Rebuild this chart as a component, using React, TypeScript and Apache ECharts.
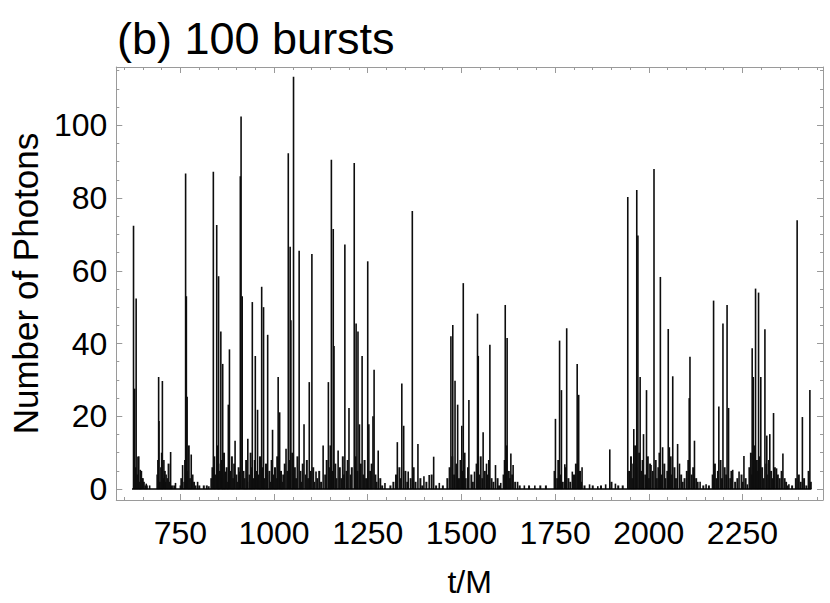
import React, { useEffect, useRef } from "react";
import * as echarts from "echarts";

// Tall burst peaks: [t/M, photons]
const burstPeaks: [number, number][] = [
  [625, 72.4], [628, 27.6], [632, 52.4], [637, 8.9], [643, 5.3], [650, 3], [659, 1.5], [668, 1],
  [692, 30.8], [693, 18.7], [702, 29.7], [706, 8], [712, 4], [724, 10.2], [737, 1.7],
  [756, 6.6], [764, 86.7], [766, 53], [768, 25.4], [779, 9.5], [796, 2], [826, 0.8],
  [838, 87.2], [847, 72.6], [852, 58.5], [858, 43.3], [863, 34.4], [870, 4.8], [878, 23.2], [881, 38.4],
  [896, 13.3], [908, 4.8], [910, 86], [912, 102.4], [915, 53], [930, 13.8], [942, 51.4], [950, 36.6],
  [956, 21.8], [967, 55.6], [972, 50], [983, 42.4], [996, 16.3], [1011, 30.8], [1015, 21.1],
  [1032, 11.1], [1038, 92.3], [1043, 66.6], [1045, 46.4], [1052, 113.3], [1067, 65.5], [1080, 17.8],
  [1094, 29.4], [1101, 64.6], [1112, 4.8], [1131, 12], [1145, 29.4], [1153, 90.5], [1158, 71.5],
  [1160, 39.3], [1171, 10.6], [1189, 67.2], [1200, 22.3], [1214, 89.6], [1219, 45.5], [1224, 43.3],
  [1228, 17.8], [1235, 36.6], [1250, 62.6], [1253, 17.8], [1264, 20], [1267, 32.8], [1278, 10.6],
  [1296, 1.7], [1329, 12.9], [1341, 29], [1346, 17.4], [1358, 4.8], [1369, 76.4], [1384, 12.4],
  [1400, 3.5], [1414, 3.9], [1426, 8.9], [1441, 1.7], [1472, 42], [1477, 45.1], [1483, 29.8],
  [1490, 23.2], [1501, 17.4], [1505, 56.6], [1520, 24.5], [1535, 4.8], [1543, 48.2], [1545, 36.6],
  [1558, 15.6], [1567, 7], [1576, 39.7], [1591, 6.6], [1605, 1.7], [1617, 50.6], [1622, 41.5],
  [1632, 9.8], [1638, 6.6], [1650, 2], [1668, 1], [1696, 1], [1751, 19.3], [1762, 40.8], [1767, 27.2],
  [1776, 6.8], [1781, 44.2], [1796, 4.8], [1809, 34.4], [1813, 25.9], [1822, 6], [1842, 1.3],
  [1864, 0.8], [1885, 1.3], [1896, 10.9], [1911, 1.5], [1944, 80.3], [1960, 16.5], [1968, 82.2],
  [1971, 69.7], [1977, 30.8], [1986, 15.1], [1994, 27.2], [2006, 6.6], [2014, 88], [2031, 58.3],
  [2037, 11.5], [2052, 44], [2055, 11.5], [2064, 31], [2077, 12.4], [2082, 7], [2108, 25],
  [2110, 36.4], [2122, 13.3], [2137, 2], [2153, 1.3], [2173, 51.8], [2187, 22.7], [2198, 45.5],
  [2209, 50.6], [2213, 22.3], [2224, 5.3], [2241, 4.8], [2254, 9.1], [2263, 1.3], [2276, 38.7],
  [2279, 30.8], [2285, 55.1], [2293, 54], [2299, 30.8], [2310, 43.9], [2315, 14.7], [2323, 15.1],
  [2333, 20.9], [2341, 5.7], [2358, 9.8], [2374, 1.3], [2396, 73.9], [2410, 19.8], [2430, 27.2],
];

// Low-level photon counts between the bursts: [t/M, photons]
const photonNoise: [number, number][] = [
  [630, 6], [634, 4], [638, 9], [641, 2], [645, 5], [648, 3], [652, 2], [656, 1], [660, 1],
  [688, 4], [690, 8], [695, 2], [698, 6], [700, 10], [704, 3], [708, 5], [710, 2], [715, 3], [718, 7],
  [721, 2], [727, 1], [733, 1], [750, 1], [752, 3], [760, 2], [762, 8], [770, 5], [772, 12], [775, 3],
  [782, 4], [786, 2], [790, 1], [800, 1], [812, 1], [820, 1],
  [832, 3], [835, 6], [840, 9], [843, 4], [849, 12], [851, 7], [855, 5], [860, 8], [862, 3], [866, 10],
  [868, 4], [873, 6], [876, 2], [884, 5], [887, 9], [890, 3], [893, 7], [899, 4], [902, 2], [905, 6],
  [918, 5], [921, 3], [925, 8], [928, 2], [934, 4], [937, 10], [940, 6], [945, 3], [948, 8], [953, 5],
  [959, 4], [962, 9], [964, 2], [970, 6], [975, 3], [978, 7], [981, 4], [987, 5], [990, 2], [993, 8],
  [999, 4], [1002, 6], [1005, 3], [1008, 9], [1018, 5], [1021, 2], [1024, 4], [1028, 7], [1035, 5],
  [1041, 8], [1048, 10], [1050, 4], [1055, 6], [1058, 3], [1062, 9], [1070, 5], [1073, 2], [1076, 7],
  [1084, 4], [1087, 8], [1090, 3], [1097, 5], [1104, 6], [1107, 2], [1115, 3], [1120, 5], [1125, 2],
  [1136, 4], [1140, 8], [1148, 6], [1150, 12], [1155, 5], [1163, 7], [1166, 3], [1175, 6], [1179, 3],
  [1183, 9], [1186, 4], [1193, 5], [1196, 8], [1204, 4], [1207, 6], [1217, 9], [1222, 5], [1231, 7],
  [1238, 4], [1241, 8], [1245, 3], [1256, 5], [1260, 7], [1270, 4], [1273, 2], [1283, 3], [1288, 1],
  [1310, 1], [1318, 2], [1325, 4], [1334, 6], [1338, 3], [1350, 5], [1355, 2], [1364, 3], [1372, 6],
  [1377, 2], [1390, 3], [1395, 1], [1406, 2], [1420, 4], [1432, 1], [1450, 1], [1462, 3],
  [1468, 6], [1475, 9], [1480, 4], [1486, 7], [1493, 3], [1497, 8], [1503, 5], [1508, 10], [1511, 3],
  [1517, 6], [1526, 4], [1530, 2], [1540, 7], [1548, 4], [1551, 9], [1555, 3], [1562, 5], [1570, 4],
  [1573, 8], [1580, 3], [1585, 2], [1596, 3], [1600, 1], [1612, 4], [1615, 8], [1620, 12], [1626, 5],
  [1629, 3], [1635, 4], [1643, 2], [1655, 1], [1680, 1], [1710, 1], [1725, 1],
  [1748, 5], [1755, 3], [1758, 8], [1765, 4], [1770, 2], [1778, 6], [1785, 3], [1790, 2], [1800, 4],
  [1805, 7], [1816, 5], [1819, 2], [1828, 1], [1850, 1], [1872, 1], [1900, 2], [1918, 1], [1930, 1],
  [1947, 5], [1952, 9], [1955, 3], [1958, 7], [1963, 12], [1966, 6], [1974, 10], [1980, 5], [1983, 8],
  [1990, 4], [1997, 9], [2000, 3], [2003, 7], [2010, 5], [2018, 8], [2021, 3], [2025, 6], [2028, 10],
  [2034, 4], [2041, 7], [2044, 3], [2049, 5], [2058, 9], [2061, 4], [2068, 6], [2072, 3], [2086, 4],
  [2090, 2], [2095, 3], [2101, 5], [2105, 8], [2114, 4], [2118, 6], [2126, 3], [2130, 2], [2145, 1],
  [2160, 1], [2170, 4], [2176, 7], [2180, 3], [2184, 5], [2191, 8], [2195, 3], [2202, 6], [2206, 4],
  [2217, 3], [2220, 5], [2230, 2], [2236, 3], [2247, 4], [2250, 2], [2258, 3],
  [2268, 6], [2272, 10], [2274, 4], [2282, 12], [2288, 8], [2290, 5], [2296, 9], [2302, 6], [2306, 3],
  [2313, 7], [2318, 4], [2320, 8], [2326, 5], [2330, 3], [2336, 6], [2344, 4], [2349, 3], [2354, 5],
  [2362, 3], [2366, 2], [2370, 1], [2382, 1], [2392, 3], [2400, 4], [2405, 2], [2414, 3], [2420, 1],
  [2426, 5], [2432, 2],
];

// First and last sample time of the record (baseline at zero photons)
const sampleSpan: number[] = [621, 2434];

const xMajorTicks: number[] = [750, 1000, 1250, 1500, 1750, 2000, 2250];
const xMinorTicks: number[] = [
  600, 650, 700, 800, 850, 900, 950, 1050, 1100, 1150, 1200, 1300, 1350, 1400, 1450,
  1550, 1600, 1650, 1700, 1800, 1850, 1900, 1950, 2050, 2100, 2150, 2200, 2300, 2350, 2400, 2450,
];
const yMajorTicks: number[] = [0, 20, 40, 60, 80, 100];
const yMinorTicks: number[] = [
  5, 10, 15, 25, 30, 35, 45, 50, 55, 65, 70, 75, 85, 90, 95, 105, 110, 115,
];

const X_MIN = 579;
const X_MAX = 2465;
const Y_MIN = -3;
const Y_MAX = 116;

const FONT = '"Liberation Sans", Arial, Helvetica, sans-serif';
const FRAME = "#9a9a9a";
const plain = (v: number) => String(v);

export default function App() {
  const ref = useRef<HTMLDivElement>(null);

  useEffect(() => {
    if (!ref.current) return;
    const chart = echarts.init(ref.current, null, { renderer: "svg" });

    const xBase = { type: "value", min: X_MIN, max: X_MAX, splitLine: { show: false } };
    const yBase = { type: "value", min: Y_MIN, max: Y_MAX, splitLine: { show: false } };
    const tickStyle = { color: FRAME, width: 1 };

    const option = {
      animation: false,
      backgroundColor: "#ffffff",
      title: {
        text: "(b) 100 bursts",
        left: 112,
        top: 11,
        textStyle: { fontFamily: FONT, fontSize: 45, fontWeight: "normal", color: "#000" },
      },
      grid: { left: 113, right: 7, top: 67, bottom: 94 },
      xAxis: [
        {
          ...xBase,
          position: "bottom",
          name: "t/M",
          nameLocation: "middle",
          nameGap: 66,
          nameTextStyle: { fontFamily: FONT, fontSize: 32, color: "#000" },
          axisLine: { show: true, onZero: false, lineStyle: { color: FRAME, width: 1 } },
          axisTick: { show: true, inside: true, length: 6, customValues: xMajorTicks, lineStyle: tickStyle },
          axisLabel: { show: true, customValues: xMajorTicks, formatter: plain, fontFamily: FONT, fontSize: 32, color: "#000", margin: 17 },
        },
        {
          ...xBase,
          position: "bottom",
          axisLine: { show: false, onZero: false },
          axisTick: { show: true, inside: true, length: 3, customValues: xMinorTicks, lineStyle: tickStyle },
          axisLabel: { show: false },
        },
        {
          ...xBase,
          position: "top",
          axisLine: { show: true, onZero: false, lineStyle: { color: FRAME, width: 1 } },
          axisTick: { show: true, inside: true, length: 6, customValues: xMajorTicks, lineStyle: tickStyle },
          axisLabel: { show: false },
        },
        {
          ...xBase,
          position: "top",
          axisLine: { show: false, onZero: false },
          axisTick: { show: true, inside: true, length: 3, customValues: xMinorTicks, lineStyle: tickStyle },
          axisLabel: { show: false },
        },
      ],
      yAxis: [
        {
          ...yBase,
          position: "left",
          name: "Number of Photons",
          nameLocation: "middle",
          nameGap: 62,
          nameTextStyle: { fontFamily: FONT, fontSize: 35, color: "#000" },
          axisLine: { show: true, onZero: false, lineStyle: { color: FRAME, width: 1 } },
          axisTick: { show: true, inside: true, length: 6, customValues: yMajorTicks, lineStyle: tickStyle },
          axisLabel: { show: true, customValues: yMajorTicks, formatter: plain, fontFamily: FONT, fontSize: 32, color: "#000", margin: 9 },
        },
        {
          ...yBase,
          position: "left",
          axisLine: { show: false, onZero: false },
          axisTick: { show: true, inside: true, length: 3, customValues: yMinorTicks, lineStyle: tickStyle },
          axisLabel: { show: false },
        },
        {
          ...yBase,
          position: "right",
          axisLine: { show: true, onZero: false, lineStyle: { color: FRAME, width: 1 } },
          axisTick: { show: true, inside: true, length: 6, customValues: yMajorTicks, lineStyle: tickStyle },
          axisLabel: { show: false },
        },
        {
          ...yBase,
          position: "right",
          axisLine: { show: false, onZero: false },
          axisTick: { show: true, inside: true, length: 3, customValues: yMinorTicks, lineStyle: tickStyle },
          axisLabel: { show: false },
        },
      ],
      series: [
        {
          type: "bar",
          name: "noise",
          xAxisIndex: 0,
          yAxisIndex: 0,
          data: photonNoise,
          barWidth: 2,
          barGap: "-100%",
          itemStyle: { color: "#111" },
          silent: true,
        },
        {
          type: "bar",
          name: "bursts",
          xAxisIndex: 0,
          yAxisIndex: 0,
          data: burstPeaks,
          barWidth: 1.6,
          barGap: "-100%",
          itemStyle: { color: "#0d0d0d" },
          silent: true,
        },
        {
          type: "line",
          name: "baseline",
          xAxisIndex: 0,
          yAxisIndex: 0,
          data: sampleSpan.map((t) => [t, 0]),
          symbol: "none",
          lineStyle: { color: "#000", width: 1.5 },
          silent: true,
        },
      ],
    };

    chart.setOption(option as any);
    return () => chart.dispose();
  }, []);

  return (
    <div
      ref={ref}
      style={{ position: "fixed", left: 0, top: 0, width: 830, height: 603 }}
    />
  );
}
